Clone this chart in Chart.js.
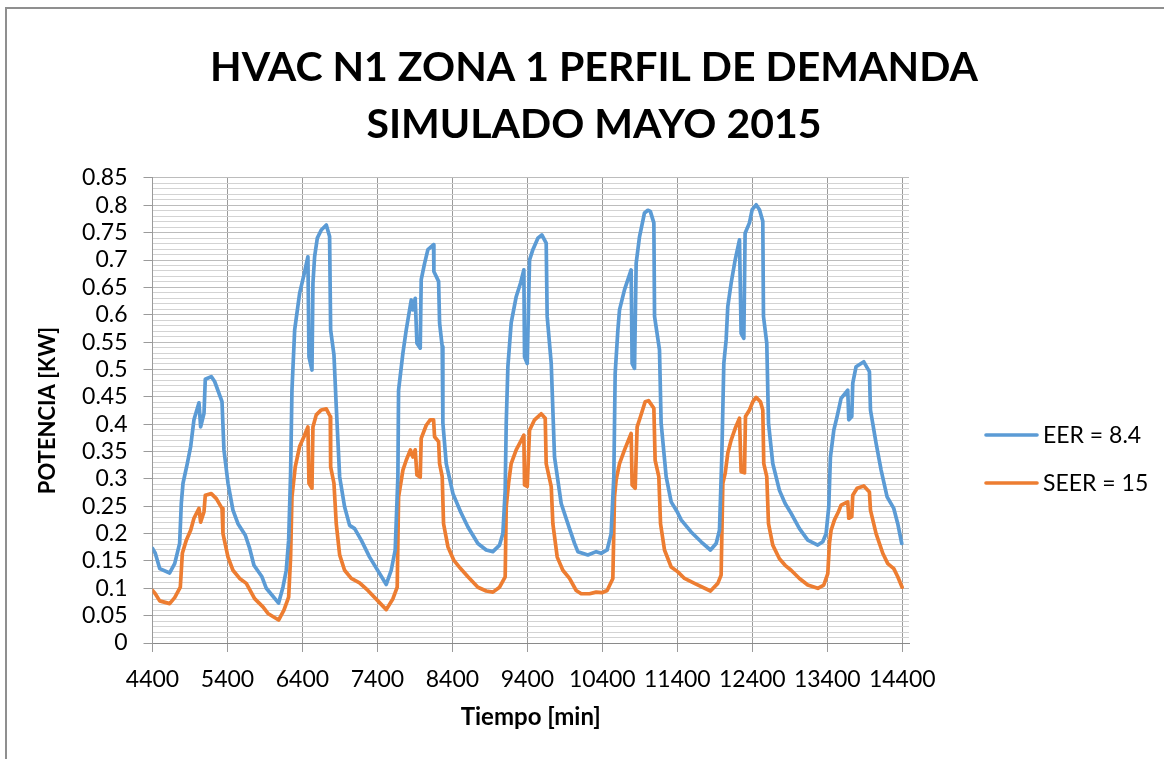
<!DOCTYPE html>
<html>
<head>
<meta charset="utf-8">
<script src="https://cdn.jsdelivr.net/npm/chart.js@4"></script>
<style>
  html, body { margin: 0; padding: 0; background: #fff; }
  #marco { position: absolute; left: 5px; top: 7px; width: 1159px; height: 752px;
           border-left: 2px solid #8f8f8f; border-top: 2px solid #8f8f8f; }
  #grafico { position: absolute; left: 0; top: 0; }
</style>
</head>
<body>
<div id="marco"></div>
<canvas id="grafico" width="1164" height="759"></canvas>
<script>
// Perfil de demanda simulado, tiempo en minutos y potencia en kW
const tiempoEER = [
    4400, 4437, 4496, 4629, 4696, 4762, 4784, 4807, 4864, 4909, 4953, 5020, 5042, 5087, 5104, 5184,
    5229, 5327, 5353, 5407, 5473, 5540, 5638, 5696, 5753, 5860, 5918, 6082, 6140, 6184, 6216, 6242,
    6260, 6296, 6362, 6420, 6473, 6487, 6527, 6540, 6562, 6598, 6651, 6718, 6762, 6776, 6820, 6851,
    6896, 6962, 7029, 7096, 7184, 7296, 7518, 7584, 7637, 7673, 7682, 7740, 7784, 7851, 7873, 7904,
    7927, 7971, 7984, 8029, 8073, 8149, 8153, 8216, 8229, 8264, 8273, 8318, 8407, 8509, 8607, 8740,
    8851, 8940, 9029, 9073, 9104, 9118, 9140, 9184, 9251, 9309, 9353, 9362, 9398, 9429, 9473, 9540,
    9593, 9651, 9664, 9718, 9762, 9851, 9962, 10029, 10073, 10207, 10318, 10384, 10464, 10517, 10553, 10571,
    10607, 10629, 10696, 10784, 10797, 10829, 10851, 10896, 10962, 11007, 11040, 11087, 11096, 11162, 11184, 11251,
    11318, 11398, 11451, 11584, 11717, 11842, 11918, 11962, 11993, 12020, 12051, 12073, 12118, 12171, 12229, 12251,
    12287, 12304, 12362, 12398, 12451, 12496, 12540, 12549, 12593, 12616, 12673, 12762, 12838, 12918, 13029, 13140,
    13273, 13340, 13384, 13420, 13442, 13487, 13531, 13584, 13673, 13687, 13727, 13740, 13784, 13887, 13962, 13976,
    14051, 14118, 14198, 14287, 14340, 14393
];
const eer = [
    0.173, 0.164, 0.136, 0.128, 0.145, 0.182, 0.255, 0.292, 0.328, 0.359, 0.408, 0.439, 0.395, 0.420, 0.482, 0.487,
    0.478, 0.441, 0.353, 0.292, 0.243, 0.218, 0.197, 0.173, 0.142, 0.121, 0.100, 0.073, 0.102, 0.133, 0.188, 0.310,
    0.462, 0.572, 0.639, 0.673, 0.706, 0.523, 0.499, 0.658, 0.706, 0.740, 0.755, 0.764, 0.743, 0.572, 0.527, 0.432,
    0.304, 0.249, 0.215, 0.209, 0.188, 0.157, 0.107, 0.133, 0.170, 0.304, 0.462, 0.530, 0.572, 0.627, 0.609, 0.630,
    0.548, 0.539, 0.664, 0.694, 0.719, 0.728, 0.679, 0.661, 0.585, 0.542, 0.402, 0.328, 0.273, 0.240, 0.212, 0.182,
    0.170, 0.167, 0.179, 0.200, 0.279, 0.402, 0.505, 0.585, 0.633, 0.658, 0.682, 0.523, 0.511, 0.700, 0.719, 0.740,
    0.746, 0.731, 0.597, 0.511, 0.340, 0.255, 0.209, 0.182, 0.167, 0.161, 0.167, 0.164, 0.170, 0.200, 0.304, 0.493,
    0.572, 0.609, 0.646, 0.682, 0.511, 0.502, 0.694, 0.743, 0.786, 0.791, 0.789, 0.768, 0.597, 0.536, 0.402, 0.304,
    0.258, 0.240, 0.225, 0.203, 0.185, 0.170, 0.182, 0.206, 0.340, 0.511, 0.554, 0.615, 0.658, 0.700, 0.737, 0.566,
    0.557, 0.749, 0.768, 0.792, 0.801, 0.792, 0.771, 0.597, 0.548, 0.402, 0.328, 0.279, 0.255, 0.237, 0.209, 0.188,
    0.179, 0.185, 0.200, 0.249, 0.340, 0.389, 0.414, 0.447, 0.462, 0.408, 0.414, 0.475, 0.505, 0.514, 0.496, 0.426,
    0.365, 0.316, 0.267, 0.246, 0.218, 0.182
];

const tiempoSEER = [
    4400, 4437, 4496, 4629, 4696, 4771, 4798, 4851, 4909, 4953, 5020, 5042, 5087, 5104, 5184, 5251,
    5327, 5340, 5407, 5473, 5562, 5651, 5762, 5873, 5940, 6082, 6153, 6216, 6242, 6260, 6304, 6362,
    6420, 6473, 6487, 6527, 6540, 6584, 6651, 6718, 6771, 6776, 6820, 6851, 6896, 6962, 7051, 7162,
    7273, 7518, 7607, 7664, 7682, 7740, 7784, 7840, 7873, 7904, 7927, 7971, 7984, 8051, 8104, 8149,
    8162, 8216, 8229, 8264, 8282, 8340, 8420, 8509, 8607, 8740, 8851, 8940, 9029, 9104, 9118, 9149,
    9184, 9251, 9309, 9353, 9362, 9398, 9429, 9496, 9584, 9638, 9651, 9718, 9740, 9798, 9873, 9962,
    10051, 10118, 10229, 10318, 10393, 10464, 10540, 10562, 10584, 10629, 10696, 10784, 10797, 10838, 10864, 10909,
    10971, 11016, 11087, 11104, 11153, 11176, 11229, 11318, 11407, 11496, 11629, 11842, 11940, 11984, 12007, 12038,
    12073, 12118, 12171, 12229, 12251, 12296, 12309, 12362, 12407, 12451, 12509, 12540, 12553, 12593, 12616, 12673,
    12762, 12838, 12918, 13029, 13140, 13273, 13353, 13407, 13429, 13451, 13496, 13549, 13584, 13673, 13687, 13727,
    13740, 13798, 13887, 13962, 13976, 14051, 14140, 14207, 14287, 14340, 14398
];
const seer = [
    0.096, 0.090, 0.077, 0.072, 0.083, 0.102, 0.164, 0.188, 0.206, 0.228, 0.246, 0.221, 0.240, 0.270, 0.273, 0.264,
    0.246, 0.200, 0.157, 0.133, 0.118, 0.109, 0.081, 0.066, 0.054, 0.042, 0.060, 0.084, 0.157, 0.267, 0.322, 0.359,
    0.377, 0.395, 0.292, 0.283, 0.395, 0.417, 0.426, 0.428, 0.414, 0.322, 0.292, 0.218, 0.161, 0.133, 0.118, 0.110,
    0.096, 0.061, 0.081, 0.102, 0.267, 0.316, 0.334, 0.353, 0.340, 0.353, 0.307, 0.303, 0.374, 0.398, 0.408, 0.408,
    0.377, 0.368, 0.328, 0.304, 0.218, 0.176, 0.151, 0.136, 0.121, 0.102, 0.095, 0.093, 0.102, 0.121, 0.249, 0.292,
    0.328, 0.353, 0.368, 0.380, 0.289, 0.286, 0.389, 0.408, 0.419, 0.411, 0.328, 0.286, 0.218, 0.157, 0.133, 0.118,
    0.096, 0.090, 0.090, 0.093, 0.092, 0.096, 0.118, 0.267, 0.298, 0.328, 0.353, 0.383, 0.289, 0.283, 0.395, 0.414,
    0.441, 0.443, 0.429, 0.334, 0.304, 0.218, 0.170, 0.139, 0.130, 0.118, 0.109, 0.095, 0.109, 0.124, 0.292, 0.310,
    0.347, 0.371, 0.392, 0.411, 0.313, 0.311, 0.414, 0.426, 0.441, 0.449, 0.441, 0.426, 0.328, 0.304, 0.218, 0.179,
    0.154, 0.142, 0.133, 0.118, 0.106, 0.100, 0.106, 0.127, 0.182, 0.206, 0.225, 0.240, 0.252, 0.258, 0.228, 0.231,
    0.270, 0.283, 0.287, 0.276, 0.243, 0.200, 0.164, 0.145, 0.136, 0.121, 0.102
];

const ticksTiempo = [4400, 5400, 6400, 7400, 8400, 9400, 10400, 11400, 12400, 13400, 14400];
const ticksPotencia = [0, 0.05, 0.1, 0.15, 0.2, 0.25, 0.3, 0.35, 0.4, 0.45, 0.5,
                       0.55, 0.6, 0.65, 0.7, 0.75, 0.8, 0.85];

// lineas menores cada 0.01 kW
const lineasMenores = [];
for (let i = 0; i <= 85; i++) lineasMenores.push(i / 100);

const esMayor = v => ticksPotencia.some(t => Math.abs(t - v) < 1e-6);

function puntos(xs, ys) {
    return xs.map((x, i) => ({ x: x, y: ys[i] }));
}

Chart.defaults.font.family = 'Lato';
Chart.defaults.color = '#000';

// leyenda a la derecha del area de trazado
const leyendaDerecha = {
    id: 'leyendaDerecha',
    afterDraw(chart) {
        const ctx = chart.ctx;
        ctx.save();
        ctx.font = '23px Lato';
        ctx.textBaseline = 'middle';
        chart.data.datasets.forEach((ds, i) => {
            const y = 435 + i * 48;
            ctx.strokeStyle = ds.borderColor;
            ctx.lineWidth = 3.6;
            ctx.lineCap = 'round';
            ctx.beginPath();
            ctx.moveTo(986, y);
            ctx.lineTo(1037, y);
            ctx.stroke();
            ctx.fillStyle = '#000';
            ctx.fillText(ds.label, 1043, y + 1);
        });
        ctx.restore();
    }
};

new Chart(document.getElementById('grafico'), {
    type: 'line',
    data: {
        datasets: [{
            label: 'EER = 8.4',
            data: puntos(tiempoEER, eer),
            borderColor: '#5B9BD5',
            borderWidth: 3.7,
            pointRadius: 0,
            borderJoinStyle: 'round',
            borderCapStyle: 'round',
            tension: 0,
            yAxisID: 'y'
        }, {
            label: 'SEER = 15',
            data: puntos(tiempoSEER, seer),
            borderColor: '#ED7D31',
            borderWidth: 3.7,
            pointRadius: 0,
            borderJoinStyle: 'round',
            borderCapStyle: 'round',
            tension: 0,
            yAxisID: 'y'
        }]
    },
    options: {
        responsive: false,
        animation: false,
        devicePixelRatio: 1,
        layout: { padding: { left: 24, right: 0, top: 0, bottom: 0 } },
        plugins: {
            legend: { display: false },
            tooltip: { enabled: false },
            title: {
                display: true,
                text: ['HVAC N1 ZONA 1 PERFIL DE DEMANDA', 'SIMULADO MAYO 2015'],
                color: '#000',
                font: { size: 41, weight: 'bold', lineHeight: 1.39 },
                padding: { top: 39, bottom: 25 }
            }
        },
        scales: {
            x: {
                type: 'linear',
                min: 4400,
                max: 14490,
                afterBuildTicks: s => { s.ticks = ticksTiempo.map(v => ({ value: v })); },
                afterFit: s => { s.height = 116; },
                ticks: {
                    autoSkip: false,
                    maxRotation: 0,
                    padding: 14,
                    font: { size: 23 },
                    callback: v => String(v)
                },
                grid: { color: '#9a9a9a', tickLength: 9, tickColor: '#9a9a9a' },
                border: { color: '#8a8a8a' },
                title: {
                    display: true,
                    text: 'Tiempo [min]',
                    font: { size: 24, weight: 'bold' },
                    padding: { top: 0, bottom: 27 }
                }
            },
            y: {
                min: 0,
                max: 0.85,
                afterBuildTicks: s => { s.ticks = lineasMenores.map(v => ({ value: v })); },
                afterFit: s => { s.width = 128.5; },
                ticks: {
                    autoSkip: false,
                    padding: 16,
                    font: { size: 23 },
                    callback: v => esMayor(v) ? String(+v.toFixed(2)) : ''
                },
                grid: {
                    color: c => esMayor(c.tick.value) ? '#bcbcbc' : '#d3d3d3',
                    tickLength: 9,
                    tickColor: c => esMayor(c.tick.value) ? '#9a9a9a' : 'rgba(0,0,0,0)'
                },
                border: { color: '#9a9a9a' },
                title: {
                    display: true,
                    text: 'POTENCIA [KW]',
                    font: { size: 22, weight: 'bold' },
                    padding: { top: 11, bottom: 0 }
                }
            },
            derecha: {
                type: 'linear',
                position: 'right',
                display: true,
                ticks: { display: false },
                grid: { display: false },
                border: { display: false },
                afterFit: s => { s.width = 255; }
            }
        }
    },
    plugins: [leyendaDerecha]
});
</script>
</body>
</html>
